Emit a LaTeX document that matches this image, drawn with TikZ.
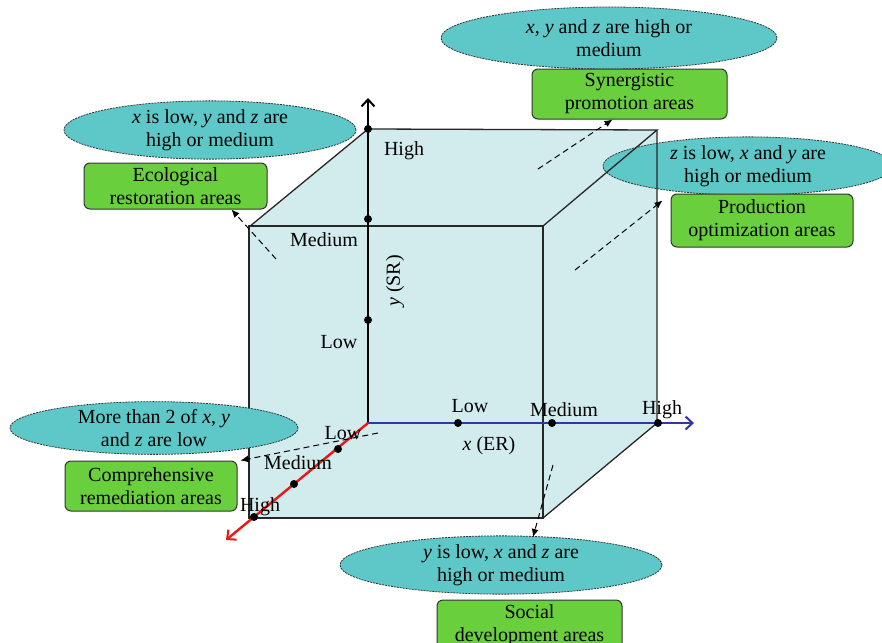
\documentclass[tikz,border=0pt]{standalone}
\usepackage{fontspec}
\setmainfont{Liberation Serif}
\usetikzlibrary{shapes.geometric,arrows.meta}
\definecolor{cubefill}{HTML}{D2ECEE}
\definecolor{ellfill}{HTML}{5EC8C8}
\definecolor{boxfill}{HTML}{6ACF3C}
\definecolor{axblue}{HTML}{3535A8}
\definecolor{axred}{HTML}{EE1515}
\tikzset{
  txt/.style={font=\fontsize{20}{23}\selectfont, align=center, inner sep=0pt},
  ell/.style={ellipse, draw=black!80, fill=ellfill, dash pattern=on 2pt off 1pt, line width=0.8pt, inner sep=0pt, txt},
  area/.style={rectangle, rounded corners=6pt, draw=black!80, fill=boxfill, line width=1pt, txt},
  edge/.style={line width=1.3pt, black!85},
  dot/.style={circle, fill=black, inner sep=0pt, minimum size=8pt},
  darr/.style={dash pattern=on 6pt off 4pt, line width=1pt, -{Latex[length=8pt,width=7pt]}},
}
\begin{document}
\begin{tikzpicture}[x=1pt,y=-1pt]
\clip (0,0) rectangle (882,642);
\fill[white] (0,0) rectangle (882,642);
% cube corners
\coordinate (O) at (368,423);
\coordinate (BTL) at (368,129);
\coordinate (BTR) at (657,130);
\coordinate (BBR) at (657,423);
\coordinate (FTL) at (249,227);
\coordinate (FTR) at (543,226);
\coordinate (FBL) at (249,518);
\coordinate (FBR) at (543,518);
\fill[cubefill] (FBL) -- (FTL) -- (BTL) -- (BTR) -- (BBR) -- (FBR) -- cycle;
% right ellipse behind edges
\node[ell, minimum width=290, minimum height=50] (e3) at (748,166) {\textit{z} is low, \textit{x} and \textit{y} are\\high or medium};
% edges
\draw[edge] (FBL) rectangle (FTR);
\draw[edge] (FTL) -- (BTL) -- (BTR) -- (FTR);
\draw[edge] (BTR) -- (BBR) -- (FBR);
% axes
\coordinate (ytip) at (368,98);
\coordinate (xtip) at (694,423);
\coordinate (ztip) at (226,540);
\draw[line width=2.4pt, black, -{Straight Barb[length=7pt,width=13pt,line width=2pt]}] (O) -- (ytip);
\draw[line width=2pt, axblue, -{Straight Barb[length=7pt,width=13pt,line width=2pt]}] (O) -- (xtip);
\draw[line width=2.4pt, axred, -{Straight Barb[length=7pt,width=13pt,line width=2pt]}] (O) -- (ztip);
% dots
\node[dot] (y3) at (368,129) {};
\node[dot] (y2) at (368,219) {};
\node[dot] (y1) at (368,320) {};
\node[dot] (x1) at (458,423) {};
\node[dot] (x2) at (552,423) {};
\node[dot] (x3) at (658,423) {};
\node[dot] (z1) at (338,449) {};
\node[dot] (z2) at (294,484) {};
\node[dot] (z3) at (254,517) {};
% axis labels
\node[txt] (ly3) at (404,151) {High};
\node[txt] (ly2) at (324,240) {Medium};
\node[txt] (ly1) at (339,342) {Low};
\node[txt, rotate=90] (ylab) at (395,281) {\textit{y} (SR)};
\node[txt] (lx1) at (470,406) {Low};
\node[txt] (lx2) at (564,410) {Medium};
\node[txt] (lx3) at (662,410) {High};
\node[txt] (xlab) at (489,446) {\textit{x} (ER)};
\node[txt] (lz1) at (343,433) {Low};
\node[txt] (lz2) at (298,463) {Medium};
\node[txt] (lz3) at (260,507) {High};
% ellipses
\node[ell, minimum width=336, minimum height=62] (e1) at (609,38) {\textit{x}, \textit{y} and \textit{z} are high or\\medium};
\node[ell, minimum width=292, minimum height=54] (e2) at (210,130) {\textit{x} is low, \textit{y} and \textit{z} are\\high or medium};
\node[ell, minimum width=288, minimum height=50] (e4) at (154,428) {More than 2 of \textit{x}, \textit{y}\\and \textit{z} are low};
\node[ell, minimum width=322, minimum height=50] (e5) at (501,565) {\textit{y} is low, \textit{x} and \textit{z} are\\high or medium};
% area boxes
\node[area, minimum width=195, minimum height=50] (syn) at (629.5,94) {Synergistic\\promotion areas};
\node[area, minimum width=183, minimum height=46] (eco) at (175.5,186) {Ecological\\restoration areas};
\node[area, minimum width=182, minimum height=53] (prod) at (762,220.5) {Production\\optimization areas};
\node[area, minimum width=172, minimum height=50] (comp) at (151,486) {Comprehensive\\remediation areas};
\node[area, minimum width=185, minimum height=50] (soc) at (529.5,625) {Social\\development areas};
% dashed connectors
\coordinate (s1) at (538,169);
\coordinate (s2) at (276,259);
\coordinate (s3) at (575,270);
\coordinate (s4) at (378,433);
\coordinate (s5) at (553,465);
\coordinate (t5) at (533,537);
\draw[darr] (s1) -- ([xshift=-17pt]syn.south);
\draw[darr] (s2) -- ([xshift=56pt]eco.south);
\draw[darr] (s3) -- ([xshift=-8pt,yshift=-7pt]prod.north west);
\draw[darr] (s4) -- ([xshift=3pt]comp.north east);
\draw[darr] (s5) -- (t5);
\end{tikzpicture}
\end{document}
